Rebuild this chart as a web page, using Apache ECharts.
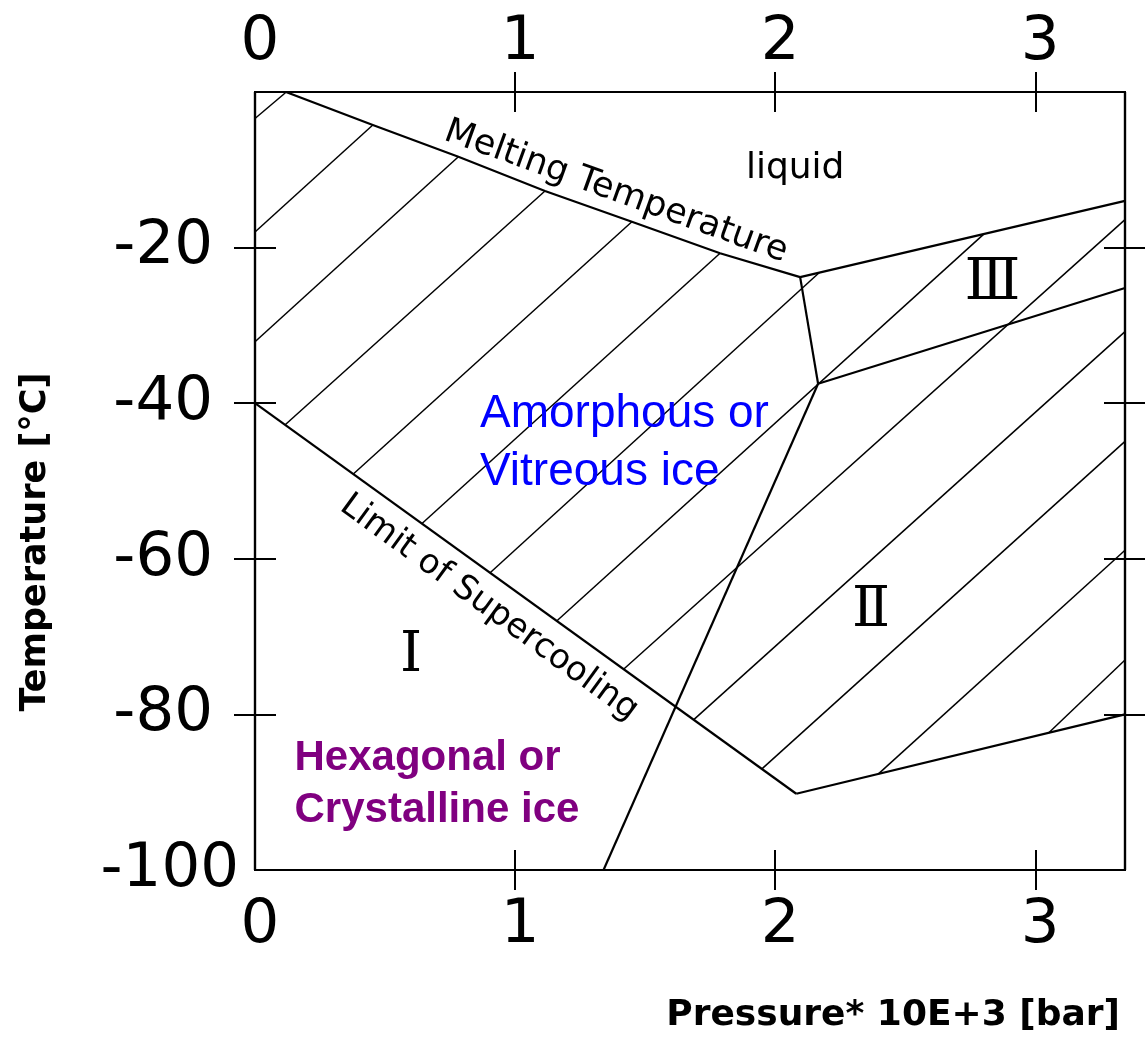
<!DOCTYPE html>
<html>
<head>
<meta charset="utf-8">
<script src="https://cdn.jsdelivr.net/npm/echarts@6/dist/echarts.min.js"></script>
<style>
html,body{margin:0;padding:0;background:#fff;}
#chart{width:1145px;height:1038px;}
</style>
</head>
<body>
<div id="chart"></div>
<script>
// ---- tick labels / ticks ----
const xTickLabels = [0, 1, 2, 3];
const yTickLabels = [-100, -80, -60, -40, -20];
const xTicks = [1, 2, 3];
const yTicks = [-80, -60, -40, -20];

// ---- phase boundaries (pressure *10^3 bar, temperature °C) ----
const meltingCurve = [[0.119, 0], [0.453, -4.24], [0.782, -8.32], [1.115, -12.72], [1.449, -16.67], [1.788, -20.73], [2.096, -23.8]];
const supercoolingLimit = [[0, -40], [2.081, -90.2]];
const iceIILower = [[2.081, -90.2], [3.345, -80.0]];
const iceIIILiquid = [[2.096, -23.8], [3.345, -14.0]];
const tripleToQuadruple = [[2.096, -23.8], [2.165, -37.5]];
const iceIIiceIII = [[2.165, -37.5], [3.345, -25.2]];
const vitreousCrystalline = [[2.165, -37.5], [1.340, -100]];

// ---- hatching segments (start, end) ----
const hatchLines = [
  [[0, -3.4], [0.117, -0.1]],
  [[0, -18.0], [0.453, -4.24]],
  [[0, -32.1], [0.782, -8.32]],
  [[0.115, -42.8], [1.115, -12.72]],
  [[0.378, -49.1], [1.449, -16.67]],
  [[0.641, -55.5], [1.788, -20.73]],
  [[0.904, -61.8], [2.17, -23.2]],
  [[1.160, -68.0], [2.801, -18.3]],
  [[1.417, -74.2], [3.345, -16.4]],
  [[1.686, -80.7], [3.345, -30.8]],
  [[1.949, -87.0], [3.345, -44.9]],
  [[2.397, -87.65], [3.345, -58.9]],
  [[3.051, -82.4], [3.345, -73.0]]
];

const XMAX = 3.345;
const TICK_FONT = '"DejaVu Sans", sans-serif';

function xAx(pos, inside, labels) {
  return {
    type: 'value', position: pos, min: 0, max: XMAX, interval: 1,
    axisLine: { show: true, onZero: false, lineStyle: { color: '#000', width: 2.2 } },
    axisTick: { show: true, inside: inside, length: 20, customValues: xTicks, lineStyle: { color: '#000', width: 2 } },
    axisLabel: {
      show: labels, customValues: xTickLabels, fontFamily: TICK_FONT, fontSize: 61, color: '#000',
      margin: pos === 'top' ? 18 : 26, padding: [0, 0, 0, 10],
      formatter: v => (Number.isInteger(v) ? String(v) : '')
    },
    splitLine: { show: false }
  };
}
function yAx(pos, inside, labels) {
  return {
    type: 'value', position: pos, min: -100, max: 0, interval: 20,
    axisLine: { show: true, onZero: false, lineStyle: { color: '#000', width: 2.2 } },
    axisTick: { show: true, inside: inside, length: 21, customValues: yTicks, lineStyle: { color: '#000', width: 2 } },
    axisLabel: {
      show: labels, customValues: yTickLabels, fontFamily: TICK_FONT, fontSize: 61, color: '#000', margin: 14,
      formatter: v => (v === 0 ? '' : (v === -100 ? '{b|' + v + '}' : '{a|' + v + '}')),
      rich: {
        a: { fontFamily: TICK_FONT, fontSize: 61, color: '#000', padding: [0, 28, 0, 0] },
        b: { fontFamily: TICK_FONT, fontSize: 61, color: '#000', padding: [0, 2, 0, 0] }
      }
    },
    splitLine: { show: false }
  };
}

function annot(x, y, text, label) {
  return { value: [x, y], label: Object.assign({ show: true, formatter: text, position: 'inside', opacity: 1 }, label) };
}

const chart = echarts.init(document.getElementById('chart'), null, { renderer: 'canvas' });
chart.setOption({
  backgroundColor: '#fff',
  animation: false,
  grid: { left: 255, top: 92, right: 20, bottom: 168, containLabel: false },
  xAxis: [xAx('bottom', false, true), xAx('bottom', true, false), xAx('top', false, true), xAx('top', true, false)],
  yAxis: [yAx('left', false, true), yAx('left', true, false), yAx('right', false, false), yAx('right', true, false)],
  series: [
    {
      type: 'lines', coordinateSystem: 'cartesian2d', xAxisIndex: 0, yAxisIndex: 0, silent: true,
      lineStyle: { color: '#000', width: 1.5, opacity: 1 },
      data: hatchLines.map(c => ({ coords: c }))
    },
    {
      type: 'lines', coordinateSystem: 'cartesian2d', xAxisIndex: 0, yAxisIndex: 0, polyline: true, silent: true,
      lineStyle: { color: '#000', width: 2.2, opacity: 1 },
      data: [meltingCurve, supercoolingLimit, iceIILower, iceIIILiquid, tripleToQuadruple, iceIIiceIII, vitreousCrystalline]
        .map(c => ({ coords: c }))
    },
    {
      type: 'scatter', xAxisIndex: 0, yAxisIndex: 0, symbolSize: 1, silent: true,
      itemStyle: { color: 'rgba(0,0,0,0)', opacity: 1 },
      emphasis: { disabled: true },
      data: [
        annot(1.388, -12.85, 'Melting Temperature', { rotate: -19.8, fontFamily: TICK_FONT, fontSize: 35, color: '#000' }),
        annot(0.90, -66.3, 'Limit of Supercooling', { rotate: -36.1, fontFamily: TICK_FONT, fontSize: 34, color: '#000' }),
        annot(2.077, -9.8, 'liquid', { fontFamily: TICK_FONT, fontSize: 36, color: '#000' }),
        annot(0.865, -45.2, 'Amorphous or\nVitreous ice', { align: 'left', verticalAlign: 'middle', fontFamily: '"Liberation Sans", Arial, sans-serif', fontSize: 46, lineHeight: 58, color: '#0000ff' }),
        annot(0.152, -89.0, 'Hexagonal or\nCrystalline ice', { align: 'left', verticalAlign: 'middle', fontFamily: '"Liberation Sans", Arial, sans-serif', fontWeight: 'bold', fontSize: 42, lineHeight: 52, color: '#800080' }),
        annot(0.600, -72.6, 'Ⅰ', { fontFamily: '"DejaVu Serif", serif', fontSize: 56, color: '#000' }),
        annot(2.369, -66.8, 'Ⅱ', { fontFamily: '"DejaVu Serif", serif', fontSize: 56, color: '#000' }),
        annot(2.835, -24.7, 'Ⅲ', { fontFamily: '"DejaVu Serif", serif', fontSize: 58, color: '#000' })
      ]
    }
  ],
  graphic: [
    {
      type: 'text', x: 36, y: 542, rotation: Math.PI / 2, silent: true,
      style: { text: 'Temperature [°C]', fill: '#000', font: 'bold 35px "DejaVu Sans", sans-serif', align: 'center', verticalAlign: 'middle', textAlign: 'center', textVerticalAlign: 'middle' }
    },
    {
      type: 'text', x: 1120, y: 1016, silent: true,
      style: { text: 'Pressure* 10E+3 [bar]', fill: '#000', font: 'bold 36px "DejaVu Sans", sans-serif', align: 'right', verticalAlign: 'middle', textAlign: 'right', textVerticalAlign: 'middle' }
    }
  ]
});
</script>
</body>
</html>
